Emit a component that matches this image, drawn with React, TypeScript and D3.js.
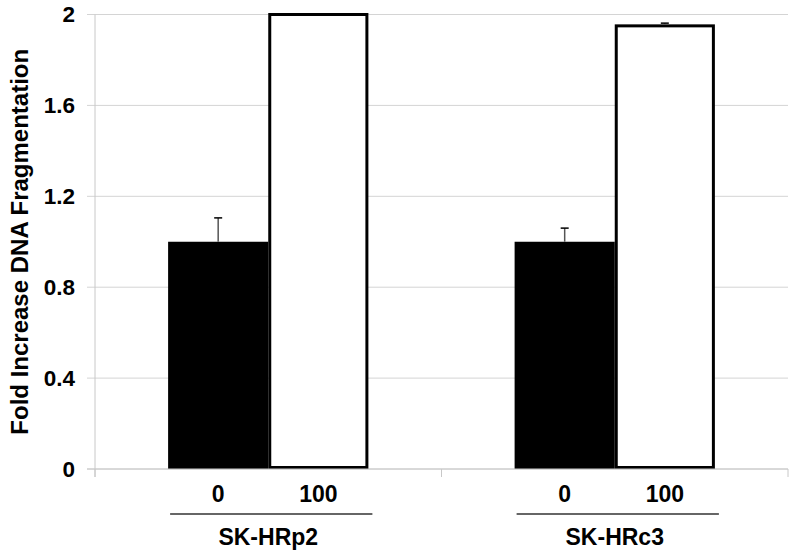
import React from 'react';
import * as d3 from 'd3';

const groups = ['SK-HRp2', 'SK-HRc3'];
const doses = ['0', '100'];
// values[group][dose]
const means = [[1.0, 2.0], [1.0, 1.95]];
const errors = [[0.105, 0], [0.06, 0.012]];
const yTicks = [0, 0.4, 0.8, 1.2, 1.6, 2];
const fills = ['#000000', '#ffffff'];

const width = 800, height = 555;
const margin = {top: 14.5, right: 12, bottom: 86, left: 95};

export default function App() {
    const font = '"Liberation Sans", Arial, sans-serif';
    const y = d3.scaleLinear().domain([0, 2]).range([height - margin.bottom, margin.top]);
    const x0 = d3.scaleBand().domain(groups).range([margin.left, width - margin.right]).padding(0);
    const x1 = d3.scaleBand().domain(doses).range([0, x0.bandwidth()]).paddingInner(0).paddingOuter(0.73);
    const y0 = y(0);

    return (
        <svg width={width} height={height} style={{position: 'absolute', left: 0, top: 0, background: '#fff'}}>
            {/* gridlines */}
            {yTicks.map(t => (
                <line key={t} x1={margin.left - 8} x2={width - margin.right} y1={y(t)} y2={y(t)}
                      stroke="#d4d4d4" strokeWidth={1}/>
            ))}
            {/* y axis */}
            <line x1={margin.left} x2={margin.left} y1={margin.top} y2={y0 + 8} stroke="#c8c8c8"/>
            {yTicks.map(t => (
                <text key={t} x={75} y={y(t)} dy="0.35em" textAnchor="end" fontFamily={font}
                      fontWeight="bold" fontSize={22.5}>{t === 0 ? '0' : d3.format('.1f')(t).replace(/\.0$/, '')}</text>
            ))}
            <text transform={`translate(28,${(margin.top + y0) / 2}) rotate(-90)`} textAnchor="middle"
                  fontFamily={font} fontWeight="bold" fontSize={24}>Fold Increase DNA Fragmentation</text>
            {/* x axis ticks at group boundaries */}
            {[...groups.map(g => x0(g)!), width - margin.right].map((v, i) => (
                <line key={i} x1={v} x2={v} y1={y0} y2={y0 + 8} stroke="#c8c8c8"/>
            ))}
            {/* bars */}
            {groups.map((g, gi) => (
                <g key={g} transform={`translate(${x0(g)},0)`}>
                    {doses.map((d, di) => {
                        const v = means[gi][di];
                        const bx = x1(d)!;
                        const bw = x1.bandwidth();
                        const white = fills[di] === '#ffffff';
                        return (
                            <g key={d}>
                                <rect x={white ? bx + 1.5 : bx} y={y(v)} width={white ? bw - 3 : bw}
                                      height={y0 - y(v) - (white ? 1.5 : 0)}
                                      fill={fills[di]} stroke={white ? '#000' : 'none'} strokeWidth={3}/>
                                {errors[gi][di] > 0 && (
                                    <g stroke="#555" strokeWidth={1.5}>
                                        <line x1={bx + bw / 2} x2={bx + bw / 2} y1={y(v) - (white ? 1.5 : 0)}
                                              y2={y(v + errors[gi][di])}/>
                                        <line x1={bx + bw / 2 - 4} x2={bx + bw / 2 + 4} y1={y(v + errors[gi][di])}
                                              y2={y(v + errors[gi][di])} stroke="#000"/>
                                    </g>
                                )}
                                <text x={bx + bw / 2} y={y0 + 25} dy="0.35em" textAnchor="middle" fontFamily={font}
                                      fontWeight="bold" fontSize={23}>{d}</text>
                            </g>
                        );
                    })}
                    <line x1={x1(doses[0])! + 2} x2={x1(doses[1])! + x1.bandwidth() + 4} y1={y0 + 45} y2={y0 + 45}
                          stroke="#666" strokeWidth={2}/>
                    <text x={x0.bandwidth() / 2} y={y0 + 68} dy="0.35em" textAnchor="middle" fontFamily={font}
                          fontWeight="bold" fontSize={23}>{g}</text>
                </g>
            ))}
            {/* x axis line */}
            <line x1={margin.left - 8} x2={width - margin.right} y1={y0} y2={y0} stroke="#c8c8c8"/>
        </svg>
    );
}
